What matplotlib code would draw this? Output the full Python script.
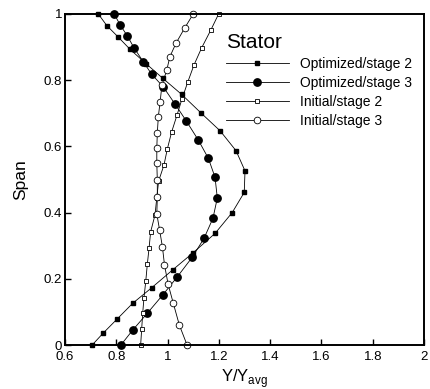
import numpy as np
import matplotlib
matplotlib.use("Agg")
import matplotlib.pyplot as plt

plt.rcParams['font.family'] = ['Liberation Sans', 'DejaVu Sans']

# spanwise distributions
span_opt2 = [1.0, 0.965, 0.930, 0.893, 0.850, 0.806, 0.757, 0.702, 0.647, 0.587, 0.526,
             0.461, 0.400, 0.337, 0.279, 0.227, 0.173, 0.126, 0.079, 0.036, 0.0]
yy_opt2 = [0.730, 0.763, 0.808, 0.854, 0.916, 0.981, 1.055, 1.129, 1.205, 1.267, 1.302,
           1.299, 1.252, 1.185, 1.100, 1.020, 0.938, 0.864, 0.804, 0.749, 0.706]

span_opt3 = [1.0, 0.967, 0.934, 0.898, 0.856, 0.818, 0.780, 0.728, 0.678, 0.619, 0.564,
             0.507, 0.444, 0.383, 0.322, 0.266, 0.206, 0.151, 0.096, 0.045, 0.0]
yy_opt3 = [0.792, 0.815, 0.843, 0.869, 0.905, 0.938, 0.983, 1.029, 1.072, 1.120, 1.159,
           1.185, 1.194, 1.177, 1.142, 1.097, 1.038, 0.981, 0.921, 0.864, 0.818]

span_init2 = [1.0, 0.952, 0.898, 0.846, 0.795, 0.743, 0.695, 0.644, 0.592, 0.544, 0.495,
              0.445, 0.393, 0.342, 0.294, 0.244, 0.193, 0.143, 0.096, 0.048, 0.0]
yy_init2 = [1.199, 1.169, 1.133, 1.103, 1.079, 1.056, 1.037, 1.016, 0.999, 0.986, 0.965,
            0.958, 0.951, 0.934, 0.928, 0.921, 0.915, 0.908, 0.903, 0.899, 0.895]

span_init3 = [1.0, 0.958, 0.912, 0.871, 0.831, 0.785, 0.735, 0.690, 0.641, 0.594, 0.549,
              0.498, 0.447, 0.396, 0.347, 0.296, 0.242, 0.184, 0.127, 0.060, 0.0]
yy_init3 = [1.100, 1.067, 1.033, 1.009, 0.997, 0.978, 0.971, 0.964, 0.960, 0.958, 0.958,
            0.960, 0.960, 0.958, 0.969, 0.980, 0.988, 1.002, 1.022, 1.046, 1.076]

labels = ["Optimized/stage 2", "Optimized/stage 3", "Initial/stage 2", "Initial/stage 3"]
xticks = [0.6, 0.8, 1.0, 1.2, 1.4, 1.6, 1.8, 2.0]
xticklabels = ["0.6", "0.8", "1", "1.2", "1.4", "1.6", "1.8", "2"]
yticks = [0, 0.2, 0.4, 0.6, 0.8, 1.0]
yticklabels = ["0", "0.2", "0.4", "0.6", "0.8", "1"]

fig = plt.figure(figsize=(4.31, 3.89), dpi=100)
ax = fig.add_axes([65/431, 44/389, 359/431, 331/389])

lw = 0.6
ax.plot(yy_opt2, span_opt2, '-', color='black', lw=lw, marker='s', ms=3.4,
        mfc='black', mec='black', label=labels[0], clip_on=False)
ax.plot(yy_opt3, span_opt3, '-', color='black', lw=lw, marker='o', ms=5.3,
        mfc='black', mec='black', label=labels[1], clip_on=False)
ax.plot(yy_init2, span_init2, '-', color='black', lw=lw, marker='s', ms=3.4,
        mfc='white', mec='black', mew=0.6, label=labels[2], clip_on=False)
ax.plot(yy_init3, span_init3, '-', color='black', lw=lw, marker='o', ms=4.8,
        mfc='white', mec='black', mew=0.6, label=labels[3], clip_on=False)

ax.set_xlim(0.6, 2.0)
ax.set_ylim(0, 1)
ax.set_xticks(xticks)
ax.set_xticklabels(xticklabels)
ax.set_yticks(yticks)
ax.set_yticklabels(yticklabels)
ax.tick_params(direction='in', length=4, width=1, labelsize=9.5, pad=2)
ax.tick_params(axis='x', pad=4)
for sp in ax.spines.values():
    sp.set_linewidth(1.4)

ax.set_xlabel("Y/Y$_{\\mathregular{avg}}$", fontsize=12, labelpad=3)
ax.set_ylabel("Span", fontsize=12.5, labelpad=11)

leg = ax.legend(title="Stator", frameon=False, loc='upper left',
                bbox_to_anchor=(226/431, 1 - 33/389), bbox_transform=fig.transFigure,
                fontsize=10, title_fontsize=15, handlelength=4.5, handletextpad=0.8,
                labelspacing=0.36, borderpad=0, borderaxespad=0)
leg._legend_box.align = "left"

fig.savefig("out.png", dpi=100)
